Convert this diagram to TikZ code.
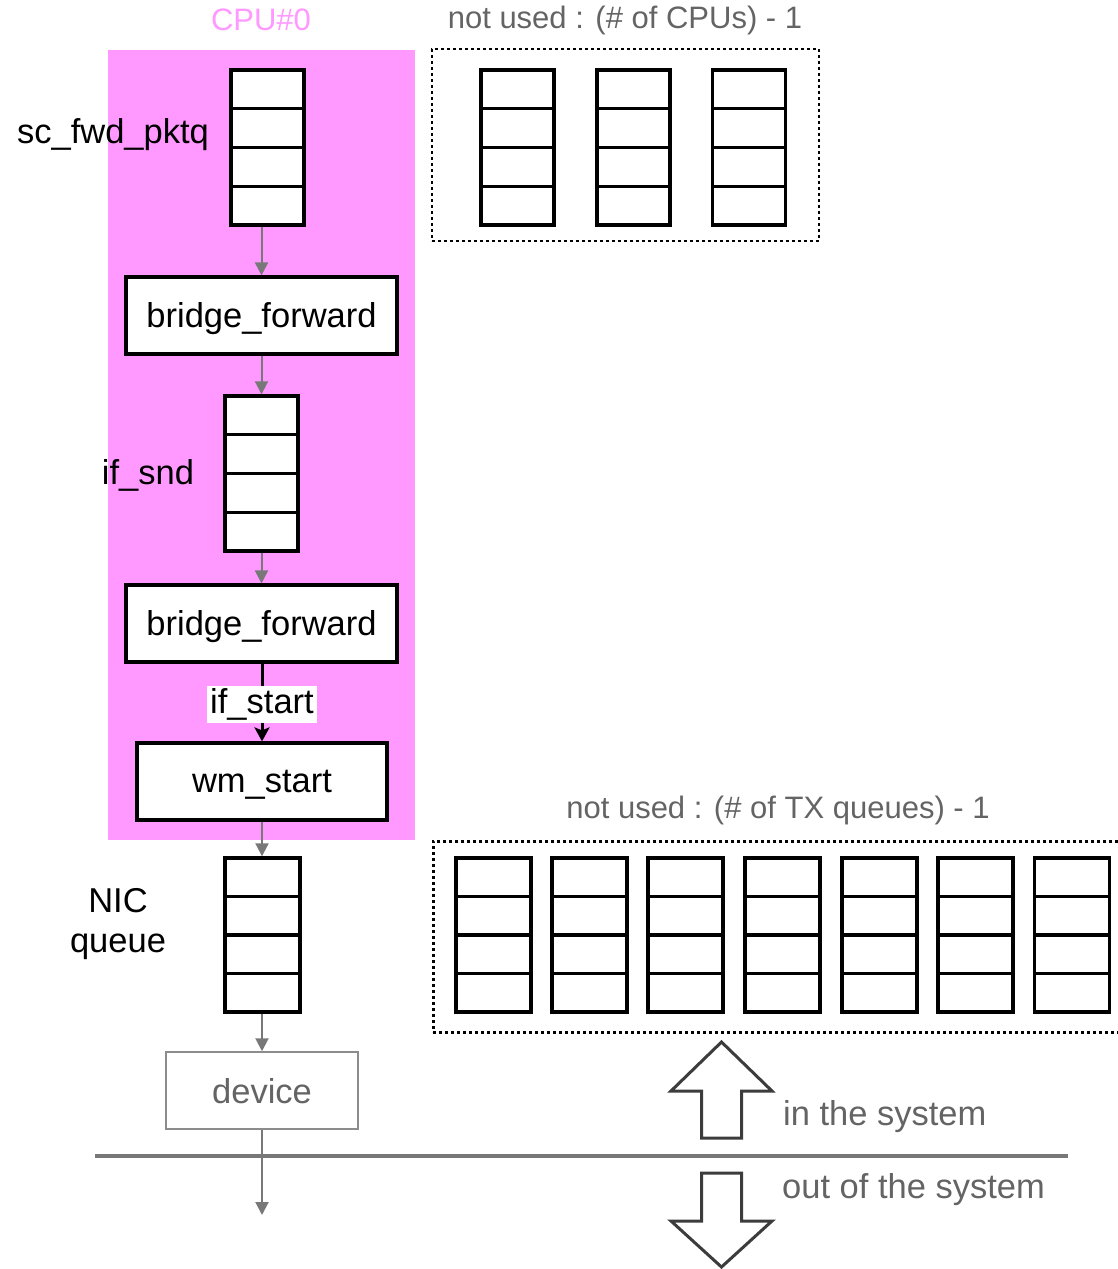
\documentclass[tikz,border=0pt]{standalone}
\usepackage{fontspec}
\setmainfont{Liberation Sans}
\usetikzlibrary{arrows.meta,calc}

\definecolor{cpupink}{RGB}{255,153,255}
\definecolor{flowgray}{RGB}{120,120,120}
\definecolor{textgray}{RGB}{100,100,100}
\definecolor{boxgray}{RGB}{140,140,140}
\definecolor{bigarrow}{RGB}{60,60,60}

\tikzset{
  bigfont/.style={font=\fontsize{34.5}{40}\selectfont},
  lbl/.style={bigfont, inner sep=0pt},
  graylbl/.style={font=\fontsize{31}{36}\selectfont, text=textgray, inner sep=0pt},
  qbox/.style={draw, line width=3.4pt, fill=white, inner sep=0pt,
    minimum width=73pt, minimum height=155pt,
    path picture={
      \foreach \k in {1,2,3}
        \draw[line width=3.4pt]
          ($(path picture bounding box.north west)!\k/4!(path picture bounding box.south west)$) --
          ($(path picture bounding box.north east)!\k/4!(path picture bounding box.south east)$);
    }},
  widebox/.style={qbox, minimum width=75pt, minimum height=154pt},
  funcbox/.style={draw, line width=3.2pt, fill=white, inner sep=0pt,
    minimum height=77pt, bigfont},
  flow/.style={draw=flowgray, line width=2pt, -{Triangle[length=13pt,width=13pt]}},
  callflow/.style={draw=black, line width=3pt, -{Stealth[length=14pt,width=15pt,inset=3pt]}},
  unused/.style={draw, line width=2.6pt, dash pattern=on 3pt off 3pt, inner sep=0pt},
  hollowarrow/.style={draw=bigarrow, line width=3pt, fill=white, line join=miter},
}

\begin{document}
\begin{tikzpicture}[x=1pt,y=-1pt]
  \clip (0,0) rectangle (1118,1269);
  \useasboundingbox (0,0) rectangle (1118,1269);

  % CPU#0 area
  \node[fill=cpupink, minimum width=307pt, minimum height=790pt, inner sep=0pt, anchor=north west]
    (cpuarea) at (108,50) {};
  \node[font=\fontsize{31}{36}\selectfont, text=cpupink, inner sep=0pt] (cpulbl) at (261,20) {CPU\#0};

  % queues and functions on CPU#0
  \node[qbox] (fwdq) at (267.5,147.5) {};
  \node[lbl] (fwdqlbl) at (113,135) {sc\_fwd\_pktq};

  \node[funcbox, minimum width=271pt, text depth=2pt] (bf1) at (261.5,315.5) {bridge\_forward};

  \node[qbox] (ifsnd) at (261.5,473.5) {};
  \node[lbl] (ifsndlbl) at (148,475) {if\_snd};

  \node[funcbox, minimum width=271pt, text depth=2pt] (bf2) at (261.5,623.5) {bridge\_forward};

  \node[funcbox, minimum width=250pt, text depth=0pt] (wmstart) at (262,781.5) {wm\_start};

  % NIC queue and device
  \node[widebox] (nicq) at (262.5,935) {};
  \node[lbl, align=center] (nicqlbl) at (118,924) {NIC\\queue};

  \node[draw=boxgray, line width=1.5pt, fill=white, minimum width=192pt, minimum height=77pt,
        bigfont, text=textgray, inner sep=0pt, text depth=0pt] (device) at (262,1090.5) {device};
  \coordinate (wire) at (262,1215);

  % system boundary
  \coordinate (bndL) at (95,1156);
  \coordinate (bndR) at (1068,1156);
  \draw[draw=flowgray, line width=3.5pt] (bndL) -- (bndR);

  % data flow
  \draw[flow] (bf1.north |- fwdq.south) -- (bf1.north);
  \draw[flow] (bf1.south) -- (bf1.south |- ifsnd.north);
  \draw[flow] (ifsnd.south) -- (ifsnd.south -| bf2.north) -- (bf2.north);
  \draw[callflow] (bf2.south -| wmstart.north) -- node[fill=white, lbl, inner xsep=3pt, inner ysep=3pt, yshift=-2pt] (ifstart) {if\_start} (wmstart.north);
  \draw[flow] (wmstart.south) -- (wmstart.south |- nicq.north);
  \draw[flow] (device.north |- nicq.south) -- (device.north);
  \draw[flow] (device.south) -- (wire);

  % unused per-CPU queues
  \node[unused, minimum width=387pt, minimum height=192pt] (cpugroup) at (625.5,145) {};
  \node[graylbl] (cpugrouplbl) at (625,20) {not used : (\# of CPUs) - 1};
  \node[qbox] (cq1) at (517.5,147.5) {};
  \node[qbox] (cq2) at (633.5,147.5) {};
  \node[qbox] (cq3) at (749,147.5) {};

  % unused TX queues
  \node[unused, minimum width=700pt, minimum height=191pt, anchor=north west] (txgroup) at (432,840) {};
  \node[graylbl] (txgrouplbl) at (778,810) {not used : (\# of TX queues) - 1};
  \foreach \i/\x in {1/493.5, 2/589.5, 3/685.5, 4/782.5, 5/879.5, 6/975.5, 7/1072}
    \node[widebox] (tq\i) at (\x,935) {};

  % in / out of the system markers
  \draw[hollowarrow] (721.5,1042) -- (772,1091) -- (741.5,1091) -- (741.5,1138)
    -- (701.5,1138) -- (701.5,1091) -- (671,1091) -- cycle;
  \draw[hollowarrow] (721.5,1267) -- (772,1221) -- (741.5,1221) -- (741.5,1173)
    -- (701.5,1173) -- (701.5,1221) -- (671,1221) -- cycle;
  \node[bigfont, text=textgray, inner sep=0pt, anchor=west] (inlbl) at (783,1117) {in the system};
  \node[bigfont, text=textgray, inner sep=0pt, anchor=west] (outlbl) at (782,1190) {out of the system};
\end{tikzpicture}
\end{document}
